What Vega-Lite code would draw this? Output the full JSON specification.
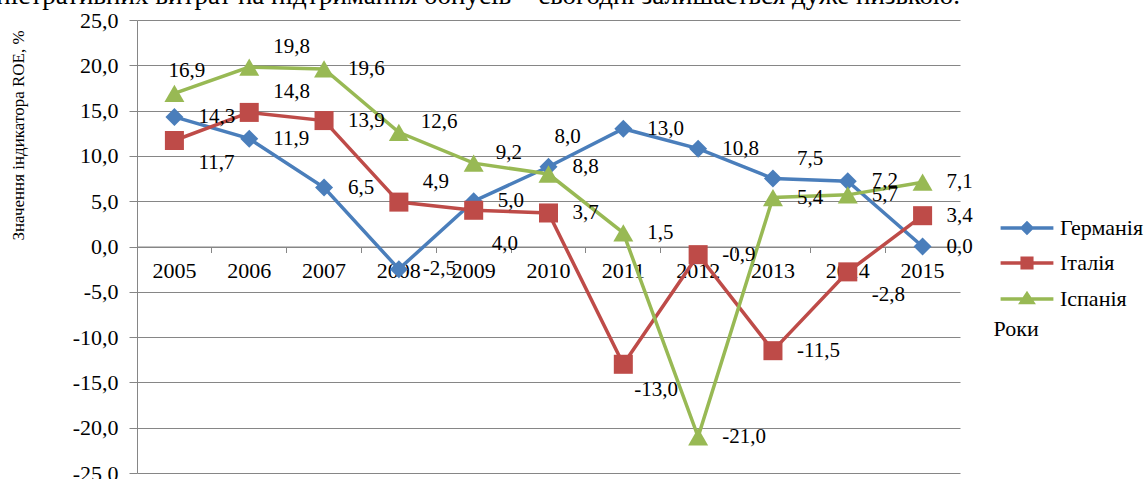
{
  "$schema": "https://vega.github.io/schema/vega-lite/v6.json",
  "autosize": {"type": "none"},
  "padding": {"left": 137, "top": 20, "right": 185, "bottom": 6},
  "width": 823,
  "height": 453,
  "title": {
    "text": "адміністративних витрат на підтримання бонусів – сьогодні залишається дуже низькою.",
    "anchor": "end",
    "frame": "group",
    "orient": "top",
    "font": "Liberation Serif, serif",
    "fontSize": 27,
    "fontWeight": "normal",
    "color": "black",
    "baseline": "alphabetic",
    "offset": 0,
    "dy": 22
  },
  "config": {
    "view": {"stroke": null},
    "locale": {"number": {"decimal": ",", "thousands": " ", "grouping": [3], "currency": ["", ""], "minus": "-"}},
    "text": {"font": "Liberation Serif, serif", "fontSize": 21, "color": "black", "align": "left", "baseline": "middle"}
  },
  "data": {
    "values": [
      {"year": "2005", "country": "Германія", "roe": 14.3},
      {"year": "2006", "country": "Германія", "roe": 11.9},
      {"year": "2007", "country": "Германія", "roe": 6.5},
      {"year": "2008", "country": "Германія", "roe": -2.5},
      {"year": "2009", "country": "Германія", "roe": 5.0},
      {"year": "2010", "country": "Германія", "roe": 8.8},
      {"year": "2011", "country": "Германія", "roe": 13.0},
      {"year": "2012", "country": "Германія", "roe": 10.8},
      {"year": "2013", "country": "Германія", "roe": 7.5},
      {"year": "2014", "country": "Германія", "roe": 7.2},
      {"year": "2015", "country": "Германія", "roe": 0.0},
      {"year": "2005", "country": "Італія", "roe": 11.7},
      {"year": "2006", "country": "Італія", "roe": 14.8},
      {"year": "2007", "country": "Італія", "roe": 13.9},
      {"year": "2008", "country": "Італія", "roe": 4.9},
      {"year": "2009", "country": "Італія", "roe": 4.0},
      {"year": "2010", "country": "Італія", "roe": 3.7},
      {"year": "2011", "country": "Італія", "roe": -13.0},
      {"year": "2012", "country": "Італія", "roe": -0.9},
      {"year": "2013", "country": "Італія", "roe": -11.5},
      {"year": "2014", "country": "Італія", "roe": -2.8},
      {"year": "2015", "country": "Італія", "roe": 3.4},
      {"year": "2005", "country": "Іспанія", "roe": 16.9},
      {"year": "2006", "country": "Іспанія", "roe": 19.8},
      {"year": "2007", "country": "Іспанія", "roe": 19.6},
      {"year": "2008", "country": "Іспанія", "roe": 12.6},
      {"year": "2009", "country": "Іспанія", "roe": 9.2},
      {"year": "2010", "country": "Іспанія", "roe": 8.0},
      {"year": "2011", "country": "Іспанія", "roe": 1.5},
      {"year": "2012", "country": "Іспанія", "roe": -21.0},
      {"year": "2013", "country": "Іспанія", "roe": 5.4},
      {"year": "2014", "country": "Іспанія", "roe": 5.7},
      {"year": "2015", "country": "Іспанія", "roe": 7.1}
    ]
  },
  "encoding": {
    "x": {
      "field": "year",
      "type": "ordinal",
      "bandPosition": 0.5,
      "scale": {"type": "band", "paddingInner": 0, "paddingOuter": 0},
      "axis": {
        "title": "Роки",
        "labelAngle": 0,
        "offset": -226.5,
        "bandPosition": 0,
        "tickSize": 6,
        "tickColor": "#868686",
        "domainColor": "#868686",
        "labelPadding": 8,
        "grid": false,
        "labelFont": "Liberation Serif, serif",
        "labelFontSize": 22,
        "labelColor": "black",
        "titleX": 856,
        "titleY": 81.5,
        "titleAlign": "left",
        "titleBaseline": "middle",
        "titleAngle": 0,
        "titleFont": "Liberation Serif, serif",
        "titleFontSize": 22,
        "titleFontWeight": "normal",
        "titleColor": "black"
      }
    },
    "y": {
      "field": "roe",
      "type": "quantitative",
      "scale": {"domain": [-25, 25], "nice": false, "zero": false},
      "axis": {
        "title": "Значення індикатора ROE, %",
        "values": [-25, -20, -15, -10, -5, 0, 5, 10, 15, 20, 25],
        "format": ".1f",
        "grid": true,
        "gridColor": "#868686",
        "domainColor": "#868686",
        "tickColor": "#868686",
        "tickSize": 8,
        "labelPadding": 11,
        "labelFont": "Liberation Serif, serif",
        "labelFontSize": 22,
        "labelColor": "black",
        "titleX": -119,
        "titleY": 115,
        "titleAlign": "center",
        "titleBaseline": "middle",
        "titleFont": "Liberation Serif, serif",
        "titleFontSize": 17,
        "titleFontWeight": "normal",
        "titleColor": "black"
      }
    }
  },
  "layer": [
    {
      "encoding": {
        "color": {
          "field": "country",
          "type": "nominal",
          "scale": {"domain": ["Германія", "Італія", "Іспанія"], "range": ["#4a7ebb", "#be4b48", "#98b954"]},
          "legend": {
            "title": null,
            "orient": "none",
            "legendX": 879,
            "legendY": 197,
            "symbolSize": 144,
            "labelOffset": 22,
            "rowPadding": 11,
            "labelFont": "Liberation Serif, serif",
            "labelFontSize": 22,
            "labelColor": "black",
            "symbolStrokeWidth": 3.5,
            "encode": {
              "symbols": {
                "update": {
                  "shape": {"signal": "datum.value === 'Германія' ? 'M-4.4,0H4.4M0,-0.8L0.8,0L0,0.8L-0.8,0Z' : datum.value === 'Італія' ? 'M-4.4,0H4.4M-0.8,-0.8H0.8V0.8H-0.8Z' : 'M-4.4,0H4.4M0,-0.85L0.95,0.6H-0.95Z'"},
                  "stroke": {"signal": "datum.value === 'Германія' ? '#4a7ebb' : datum.value === 'Італія' ? '#be4b48' : '#98b954'"},
                  "strokeWidth": {"value": 3.5}
                }
              }
            }
          }
        }
      },
      "layer": [
        {
          "mark": {"type": "line", "strokeWidth": 3.5}
        },
        {
          "mark": {"type": "point", "filled": true, "opacity": 1},
          "encoding": {
            "shape": {
              "field": "country",
              "type": "nominal",
              "scale": {"range": ["triangle-up", "square", "diamond"]},
              "legend": null
            },
            "size": {
              "field": "country",
              "type": "nominal",
              "scale": {"range": [400, 324, 256]},
              "legend": null
            }
          }
        }
      ]
    },
    {
      "transform": [{"filter": "indexof(['Італія2006','Італія2008','Іспанія2006','Германія2013','Іспанія2005','Іспанія2008','Іспанія2009','Іспанія2010','Італія2005','Італія2014','Італія2011','Італія2009'], datum.country + datum.year) < 0"}],
      "mark": {"type": "text", "dx": 24, "dy": 0},
      "encoding": {"text": {"field": "roe", "type": "quantitative", "format": ".1f"}}
    },
    {
      "transform": [{"filter": "indexof(['Італія2006','Італія2008','Іспанія2006','Германія2013'], datum.country + datum.year) >= 0"}],
      "mark": {"type": "text", "dx": 24, "dy": -20},
      "encoding": {"text": {"field": "roe", "type": "quantitative", "format": ".1f"}}
    },
    {
      "transform": [{"filter": "indexof(['Іспанія2008','Іспанія2009'], datum.country + datum.year) >= 0"}],
      "mark": {"type": "text", "dx": 22, "dy": -10},
      "encoding": {"text": {"field": "roe", "type": "quantitative", "format": ".1f"}}
    },
    {
      "transform": [{"filter": "datum.country + datum.year === 'Іспанія2005'"}],
      "mark": {"type": "text", "dx": -6, "dy": -22},
      "encoding": {"text": {"field": "roe", "type": "quantitative", "format": ".1f"}}
    },
    {
      "transform": [{"filter": "datum.country + datum.year === 'Іспанія2010'"}],
      "mark": {"type": "text", "dx": 6, "dy": -37},
      "encoding": {"text": {"field": "roe", "type": "quantitative", "format": ".1f"}}
    },
    {
      "transform": [{"filter": "indexof(['Італія2005','Італія2014'], datum.country + datum.year) >= 0"}],
      "mark": {"type": "text", "dx": 24, "dy": 23},
      "encoding": {"text": {"field": "roe", "type": "quantitative", "format": ".1f"}}
    },
    {
      "transform": [{"filter": "datum.country + datum.year === 'Італія2011'"}],
      "mark": {"type": "text", "dx": 11, "dy": 26},
      "encoding": {"text": {"field": "roe", "type": "quantitative", "format": ".1f"}}
    },
    {
      "transform": [{"filter": "datum.country + datum.year === 'Італія2009'"}],
      "mark": {"type": "text", "dx": 18, "dy": 34},
      "encoding": {"text": {"field": "roe", "type": "quantitative", "format": ".1f"}}
    }
  ]
}
